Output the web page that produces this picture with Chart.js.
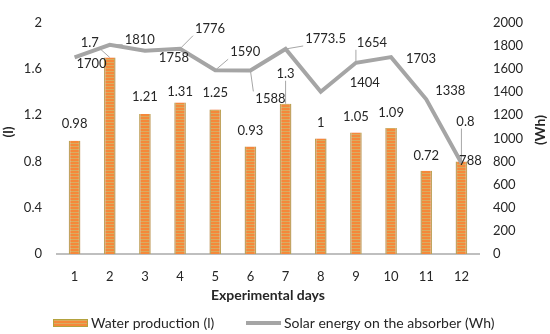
<!DOCTYPE html>
<html>
<head>
<meta charset="utf-8">
<script src="https://cdn.jsdelivr.net/npm/chart.js@4.4.1/dist/chart.umd.min.js"></script>
<style>
  html, body { margin: 0; padding: 0; background: #fff; }
  #wrap { width: 550px; height: 334px; position: relative; }
</style>
</head>
<body>
<div id="wrap"><canvas id="chart" width="550" height="334"></canvas></div>
<script>
// data
const days = ["1", "2", "3", "4", "5", "6", "7", "8", "9", "10", "11", "12"];
const waterProduction = [0.98, 1.7, 1.21, 1.31, 1.25, 0.93, 1.3, 1, 1.05, 1.09, 0.72, 0.8];
const solarEnergy = [1700, 1810, 1758, 1776, 1590, 1588, 1773.5, 1404, 1654, 1703, 1338, 788];
const leftTicks = [0, 0.4, 0.8, 1.2, 1.6, 2];
const rightTicks = [0, 200, 400, 600, 800, 1000, 1200, 1400, 1600, 1800, 2000];

// label placement (dx, dy from the mark, and whether a leader line is drawn)
const barLabelPos = [
  [0, -17, false], [-20, -15, true], [0, -17, false], [0, -11, false],
  [0, -17, false], [0, -16, false], [0, -30, true], [0, -16, false],
  [0, -16, false], [0, -15, false], [0, -15, false], [4, -40, true]
];
const lineLabelPos = [
  [17, 6, false], [30, -5, true], [29, 7, true], [30, -20, true],
  [30, -18, true], [20, 28, true], [40, -10, true], [44, -9, false],
  [16, -20, true], [30, 2, false], [24, -9, false], [9, -2, false]
];

const FONT = "Lato, 'Open Sans', sans-serif";
const TEXT = "#262626";
const LINE_GRAY = "#a5a5a5";
const BAR_EDGE = "#b3a23e";

// striped orange fill like the original bars
function stripePattern() {
  const c = document.createElement("canvas");
  c.width = 4;
  c.height = 3;
  const g = c.getContext("2d");
  g.fillStyle = "#f5883a";
  g.fillRect(0, 0, 4, 3);
  g.fillStyle = "#d8ac60";
  g.fillRect(0, 2, 4, 1);
  return g.createPattern(c, "repeat");
}

const ctx = document.getElementById("chart").getContext("2d");
const barFill = stripePattern();

// soft pink glow behind the bars
const barGlow = {
  id: "barGlow",
  beforeDatasetDraw(chart, args) {
    if (args.index !== 1) return;
    const c = chart.ctx;
    c.save();
    c.shadowColor = "rgba(245,170,220,0.55)";
    c.shadowBlur = 6;
  },
  afterDatasetDraw(chart, args) {
    if (args.index !== 1) return;
    chart.ctx.restore();
  }
};

function drawLabel(c, text, ax, ay, pos) {
  const lx = ax + pos[0];
  const ly = ay + pos[1];
  const w = c.measureText(text).width;
  const h = 12;
  if (pos[2]) {
    const bx = Math.min(Math.max(ax, lx - w / 2 - 2), lx + w / 2 + 2);
    const by = Math.min(Math.max(ay, ly - h / 2 - 1), ly + h / 2 + 1);
    c.strokeStyle = "#a6a6a6";
    c.lineWidth = 1;
    c.beginPath();
    c.moveTo(ax, ay);
    c.lineTo(bx, by);
    c.stroke();
  }
  c.fillText(text, lx, ly);
}

// value labels for both series
const valueLabels = {
  id: "valueLabels",
  afterDatasetsDraw(chart) {
    const c = chart.ctx;
    c.save();
    c.font = "13px " + FONT;
    c.fillStyle = TEXT;
    c.textAlign = "center";
    c.textBaseline = "middle";
    const bars = chart.getDatasetMeta(1).data;
    bars.forEach((el, i) => {
      drawLabel(c, String(waterProduction[i]), el.x, el.y, barLabelPos[i]);
    });
    const pts = chart.getDatasetMeta(0).data;
    pts.forEach((el, i) => {
      drawLabel(c, String(solarEnergy[i]), el.x, el.y, lineLabelPos[i]);
    });
    c.restore();
  }
};

// y titles and legend, placed like the original
const extras = {
  id: "extras",
  afterDraw(chart) {
    const c = chart.ctx;
    c.save();
    c.fillStyle = TEXT;
    c.font = "bold 14px " + FONT;
    c.textAlign = "center";
    c.textBaseline = "middle";
    c.translate(8, 132);
    c.rotate(-Math.PI / 2);
    c.fillText("(l)", 0, 0);
    c.restore();

    c.save();
    c.fillStyle = TEXT;
    c.font = "bold 14px " + FONT;
    c.textAlign = "center";
    c.textBaseline = "middle";
    c.translate(540, 130);
    c.rotate(-Math.PI / 2);
    c.fillText("(Wh)", 0, 0);
    c.restore();

    // legend
    c.save();
    c.font = "14px " + FONT;
    c.textBaseline = "middle";
    c.fillStyle = barFill;
    c.fillRect(53, 319, 35, 8);
    c.strokeStyle = BAR_EDGE;
    c.lineWidth = 1;
    c.strokeRect(53.5, 319.5, 34, 7);
    c.fillStyle = TEXT;
    c.fillText("Water production (l)", 91, 323);
    c.strokeStyle = LINE_GRAY;
    c.lineWidth = 4;
    c.beginPath();
    c.moveTo(246, 323);
    c.lineTo(281, 323);
    c.stroke();
    c.fillText("Solar energy on the absorber (Wh)", 284, 323);
    c.restore();
  }
};

new Chart(ctx, {
  data: {
    labels: days,
    datasets: [
      {
        type: "line",
        label: "Solar energy on the absorber (Wh)",
        data: solarEnergy,
        yAxisID: "yRight",
        borderColor: LINE_GRAY,
        borderWidth: 4,
        pointRadius: 0,
        tension: 0,
        order: 0
      },
      {
        type: "bar",
        label: "Water production (l)",
        data: waterProduction,
        yAxisID: "yLeft",
        backgroundColor: barFill,
        borderColor: BAR_EDGE,
        borderWidth: { left: 1.5, right: 1.5, top: 0, bottom: 0 },
        borderSkipped: false,
        barPercentage: 0.33,
        categoryPercentage: 1,
        order: 1
      }
    ]
  },
  options: {
    responsive: false,
    animation: false,
    layout: { padding: { top: 10, bottom: 30, left: 0, right: 0 } },
    plugins: {
      legend: { display: false },
      tooltip: { enabled: false }
    },
    scales: {
      x: {
        grid: { display: false, drawTicks: false },
        border: { display: true, color: "#bfbfbf", width: 2 },
        ticks: { color: TEXT, font: { family: FONT, size: 13 }, padding: 15 },
        title: {
          display: true,
          text: "Experimental days",
          color: TEXT,
          font: { family: FONT, size: 14, weight: "bold" },
          padding: { top: 0, bottom: 0 }
        },
        afterFit(scale) { scale.height = 50; }
      },
      yLeft: {
        position: "left",
        min: 0,
        max: 2,
        afterBuildTicks(scale) { scale.ticks = leftTicks.map(v => ({ value: v })); },
        grid: { display: false, drawTicks: false },
        border: { display: false },
        ticks: {
          color: TEXT,
          font: { family: FONT, size: 13 },
          padding: 15,
          callback: (v) => String(v)
        },
        afterFit(scale) { scale.width = 57; }
      },
      yRight: {
        position: "right",
        min: 0,
        max: 2000,
        afterBuildTicks(scale) { scale.ticks = rightTicks.map(v => ({ value: v })); },
        grid: { display: false, drawTicks: false },
        border: { display: false },
        ticks: {
          color: TEXT,
          font: { family: FONT, size: 13 },
          padding: 14,
          callback: (v) => String(v)
        },
        afterFit(scale) { scale.width = 71; }
      }
    }
  },
  plugins: [barGlow, valueLabels, extras]
});
</script>
</body>
</html>
